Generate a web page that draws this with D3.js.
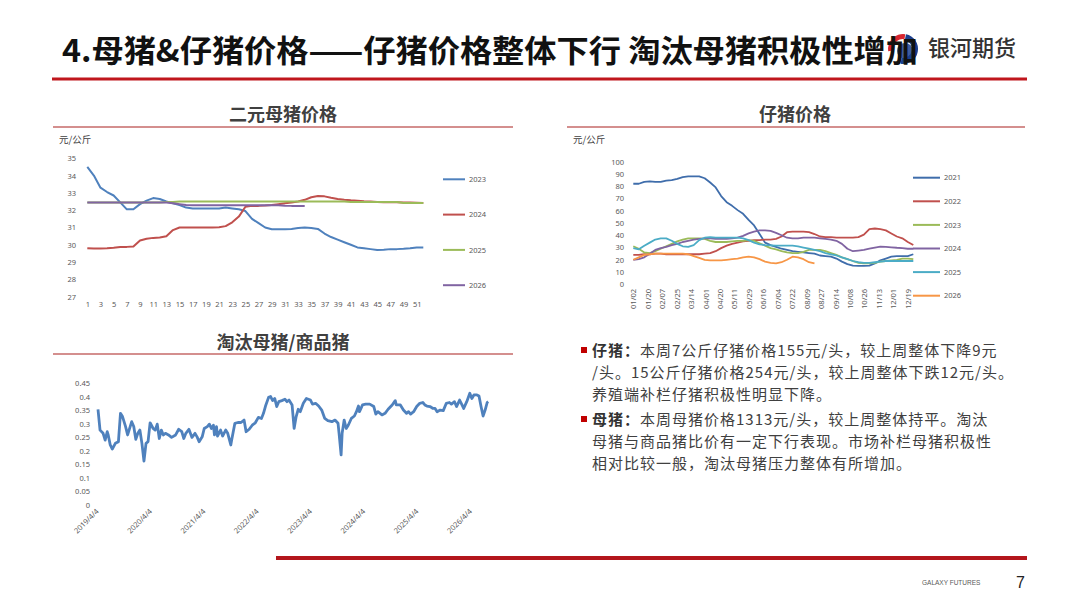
<!DOCTYPE html>
<html>
<head>
<meta charset="utf-8">
<script src="https://cdn.jsdelivr.net/npm/d3@7"></script>
<style>
body { margin: 0; background: #fff; }
svg { display: block; font-family: "Noto Sans CJK SC", "Noto Sans", sans-serif; }
.tick text { fill: #595959; font-family: "Noto Sans", "Noto Sans CJK SC", sans-serif; font-size: 7.5px; }
</style>
</head>
<body>
<svg id="slide" width="1080" height="608"></svg>
<script>
// ---- data ----
var sowYears = ["2023", "2024", "2025", "2026"];
var sowTicks = [27, 28, 29, 30, 31, 32, 33, 34, 35];
var sow2023 = [34.5,34.0,33.3,33.05,32.85,32.45,32.05,32.05,32.35,32.55, 32.7,32.65,32.5,32.4,32.3,32.15,32.1,32.1,32.1,32.1,
	32.1,32.15,32.1,32.05,31.95,31.5,31.25,31.0,30.9,30.9, 30.9,30.92,30.97,31.0,30.97,30.92,30.65,30.45,30.3,30.15,
	30.0,29.85,29.8,29.75,29.7,29.72,29.75,29.75,29.77,29.8, 29.85,29.85];
var sow2024 = [29.8,29.78,29.78,29.8,29.83,29.87,29.88,29.9,30.25,30.35, 30.4,30.42,30.5,30.85,31.0,31.0,31.0,31.0,31.0,31.0,
	31.02,31.08,31.3,31.63,32.2,32.25,32.25,32.27,32.3,32.35, 32.4,32.45,32.5,32.6,32.75,32.82,32.8,32.72,32.65,32.6,
	32.57,32.55,32.52,32.5,32.48,32.46,32.46,32.46,32.45,32.44, 32.43,32.42];
var sow2025 = [32.45,32.45,32.45,32.45,32.45,32.45,32.45,32.45,32.45,32.45, 32.45,32.45,32.47,32.47,32.5,32.5,32.5,32.5,32.5,32.5,
	32.5,32.5,32.5,32.5,32.5,32.5,32.5,32.5,32.5,32.5, 32.5,32.5,32.5,32.5,32.5,32.5,32.5,32.5,32.5,32.5,
	32.48,32.48,32.48,32.48,32.48,32.48,32.48,32.48,32.42,32.42, 32.42,32.42];
var sow2026 = [32.45,32.45,32.45,32.45,32.45,32.45,32.45,32.45,32.45,32.45, 32.45,32.45,32.45,32.4,32.35,32.3,32.28,32.28,32.28,32.28,
	32.28,32.28,32.28,32.28,32.28,32.28,32.28,32.28,32.28,32.28, 32.26,32.25,32.25,32.24];

var pigYears = ["2021", "2022", "2023", "2024", "2025", "2026"];
var pigTicks = [0, 10, 20, 30, 40, 50, 60, 70, 80, 90, 100];
var pigDates = ["01/02","01/20","02/07","02/25","03/14","04/01","04/20","05/11","05/29","06/16",
	"07/04","07/22","08/09","08/27","09/14","10/08","10/26","11/13","12/01","12/19"];
var pig2021 = [82,82,83.5,84,83.5,83.5,84.5,85,86,87.5, 88,88,88,86.5,83,79,72,67,64,60.5,
	57.5,52.5,48,41,34,32,30.5,29,28,27, 26.5,26,25.5,25,23.5,23,22.5,21,18.5,16.5,
	15.2,15,15,15.2,17,19.5,21,22.5,23,23, 23,24.5];
var pig2022 = [24,24,24.5,24.5,25,25,24.5,24.5,24.5,24.5, 24.5,24.5,24.5,25,25.5,27,29.5,31.5,33,34,
	35,35.5,36,36,36.5,36.5,37,39,42.5,43, 43,43,42.5,41,39,38.5,38.5,38,38,38,
	38,38.5,40.5,45,45.5,45,44,41.5,39,37.5, 34.5,32];
var pig2023 = [31,29,26,25.5,27,29,31,33,35,36.5, 37.5,37.5,37.5,37,35.5,34.5,34.5,34.5,35,35.5,
	35.5,36,35.5,33.5,31.5,29.5,28.5,27,26,25.5, 25.5,26.5,28,28,28,27,25.5,24,22,20.5,
	19,17.5,17,17,17.5,18.5,19,19.5,20,21, 21,20.5];
var pig2024 = [20,20.5,22,25,28,29.5,30.5,32,33,34.5, 35.5,36.5,37,37.5,37.5,37,37,37,37.5,38,
	39.5,41.5,43,44,44,43.5,42,40,38,37.5, 37.5,38,38,38,37.5,37,36.5,35.5,33,29,
	27,27.5,28,29,30,30.8,30.5,30.2,29.8,29.5, 29,29];
var pig2025 = [29.5,28.5,31.5,34,36.5,37.5,37.5,35.5,33,31, 30.5,32,36,38,38.5,38,38,38,38,38,
	37.5,36,34,32.5,32,31.8,31.5,31.5,31.5,31.5, 31,30,29,28,27,25.5,24.5,23.5,22,20.5,
	19,18,17.5,17.5,18,18.5,19,19,19,19, 19,19];
var pig2026 = [20,22,24,24.5,25,25,25,25,25,25, 24.5,23,21.5,20,19.5,19.5,19.5,20,20.5,21,
	22,22.5,22,20.5,18.5,17.5,17,18,20,22.5, 22,20.5,18,17];

var ratioTicks = [0, 0.05, 0.1, 0.15, 0.2, 0.25, 0.3, 0.35, 0.4, 0.45];
var ratioDates = ["2019/4/4","2020/4/4","2021/4/4","2022/4/4","2023/4/4","2024/4/4","2025/4/4","2026/4/4"];
// weeks counted from 2019/4/4
var ratioWeeks = [0,2,5,7,9,10,12,14,17,20,22,24,27,29,33,35,37,39,41,43,45,47,49,51,54,56,58,60,62,64,66,69,72,76,79,82,84,86,89,92,
	95,97,99,102,104,107,109,111,113,114,116,117,120,122,125,127,130,131,134,137,140,143,145,148,151,154,157,160,162,164,
	167,169,171,173,175,177,180,183,185,187,190,192,194,196,198,201,204,208,210,213,216,219,222,225,229,232,235,236,238,239,
	241,243,245,248,251,253,255,256,259,262,266,270,272,274,278,281,284,288,291,292,296,299,302,304,306,309,312,315,318,320,
	322,325,328,330,332,335,338,341,344,346,349,351,354,356,358,361,364,366,368,371,373,375,377,379,381,382];
var ratioValues = [0.354,0.277,0.265,0.240,0.271,0.259,0.222,0.207,0.228,0.234,0.339,0.327,0.290,0.259,0.308,0.290,0.243,0.265,0.277,0.228,
	0.162,0.228,0.234,0.304,0.283,0.277,0.299,0.246,0.277,0.259,0.265,0.259,0.250,0.259,0.280,0.271,0.246,0.265,0.280,0.250,
	0.265,0.252,0.234,0.252,0.283,0.290,0.299,0.283,0.295,0.259,0.290,0.255,0.277,0.255,0.277,0.265,0.222,0.243,0.302,0.305,
	0.305,0.314,0.271,0.280,0.295,0.304,0.324,0.320,0.339,0.366,0.398,0.401,0.386,0.394,0.364,0.382,0.386,0.391,0.382,0.388,
	0.370,0.283,0.327,0.354,0.345,0.376,0.394,0.388,0.373,0.376,0.366,0.351,0.320,0.312,0.308,0.314,0.302,0.265,0.185,0.265,
	0.314,0.283,0.295,0.320,0.329,0.345,0.366,0.345,0.370,0.373,0.373,0.364,0.336,0.345,0.333,0.339,0.354,0.370,0.386,0.370,
	0.370,0.351,0.339,0.345,0.336,0.345,0.364,0.376,0.379,0.370,0.366,0.364,0.357,0.357,0.345,0.351,0.349,0.376,0.379,0.373,
	0.382,0.364,0.388,0.373,0.357,0.382,0.413,0.394,0.407,0.407,0.403,0.364,0.329,0.351,0.379,0.382];

var notes = [
	{ label: "仔猪：", lines: ["本周7公斤仔猪价格155元/头，较上周整体下降9元", "/头。15公斤仔猪价格254元/头，较上周整体下跌12元/头。", "养殖端补栏仔猪积极性明显下降。"] },
	{ label: "母猪：", lines: ["本周母猪价格1313元/头，较上周整体持平。淘汰", "母猪与商品猪比价有一定下行表现。市场补栏母猪积极性", "相对比较一般，淘汰母猪压力整体有所增加。"] }
];

var COLORS = ["#3f6dab", "#c0504d", "#9bbb59", "#8064a2", "#4bacc6", "#f79646"];
var SOW_COLORS = ["#4f81bd", "#c0504d", "#9bbb59", "#8064a2"];

var svg = d3.select("#slide");

// ---- header ----
var logo = svg.append("g").attr("transform", "translate(903,49)");
logo.append("path")
	.attr("d", d3.arc()({ innerRadius: 9, outerRadius: 15, startAngle: 0.2, endAngle: Math.PI * 1.05 }))
	.attr("fill", "#1c3f8c");
logo.append("path")
	.attr("d", d3.arc()({ innerRadius: 10, outerRadius: 15, startAngle: -Math.PI * 0.55, endAngle: 0.15 }))
	.attr("fill", "#d7262e");
logo.append("circle").attr("r", 8).attr("cx", 2).attr("cy", 2).attr("fill", "#1c3f8c").attr("opacity", 0.85);

svg.append("text")
	.attr("x", 62).attr("y", 62)
	.attr("textLength", 856).attr("lengthAdjust", "spacingAndGlyphs")
	.attr("font-size", 31).attr("font-weight", 700).attr("fill", "#111")
	.text("4.母猪&仔猪价格——仔猪价格整体下行 淘汰母猪积极性增加");

svg.append("text")
	.attr("x", 928).attr("y", 56)
	.attr("font-size", 22).attr("font-weight", 500).attr("fill", "#333")
	.text("银河期货");

svg.append("line").attr("x1", 52).attr("x2", 1027).attr("y1", 79).attr("y2", 79)
	.attr("stroke", "#c0161d").attr("stroke-width", 3);

// ---- footer ----
svg.append("line").attr("x1", 276).attr("x2", 1027).attr("y1", 558).attr("y2", 558)
	.attr("stroke", "#b3161c").attr("stroke-width", 4);
svg.append("text").attr("x", 922).attr("y", 585).attr("font-size", 6.5)
	.attr("font-family", "Liberation Sans Narrow, Liberation Sans, sans-serif").attr("fill", "#595959")
	.text("GALAXY FUTURES");
svg.append("text").attr("x", 1016).attr("y", 588).attr("font-size", 16)
	.attr("font-family", "Liberation Sans Narrow, Liberation Sans, sans-serif").attr("fill", "#222")
	.text("7");

function panelTitle(cx, y, txt, x1, x2, lineY) {
	svg.append("text").attr("x", cx).attr("y", y).attr("text-anchor", "middle")
		.attr("font-size", 18).attr("font-weight", 700).attr("fill", "#404040").text(txt);
	svg.append("line").attr("x1", x1).attr("x2", x2).attr("y1", lineY).attr("y2", lineY)
		.attr("stroke", "#c66a68").attr("stroke-width", 1.5);
}

function cleanAxis(g) {
	g.select(".domain").remove();
	g.selectAll(".tick line").remove();
}

function drawLine(g, values, xPos, y, color, width) {
	g.append("path")
		.datum(values)
		.attr("fill", "none")
		.attr("stroke", color)
		.attr("stroke-width", width)
		.attr("stroke-linejoin", "round")
		.attr("d", d3.line().x(function(d, i) { return xPos(i); }).y(function(d) { return y(d); }));
}

// ---- 二元母猪价格 ----
panelTitle(283, 121, "二元母猪价格", 53, 513, 127);
svg.append("text").attr("x", 59).attr("y", 143).attr("font-size", 9.5).attr("fill", "#404040").text("元/公斤");

var sowX = d3.scaleLinear().domain([1, 52]).range([87.3, 423.3]);
var sowY = d3.scaleLinear().domain([27, 35]).range([296.7, 158.3]);

svg.append("g").attr("transform", "translate(76,0)")
	.call(d3.axisLeft(sowY).tickValues(sowTicks).tickSize(0).tickPadding(0).tickFormat(d3.format("d")))
	.call(cleanAxis);
svg.append("g").attr("transform", "translate(0,300)")
	.call(d3.axisBottom(sowX).tickValues(d3.range(1, 52, 2)).tickSize(0).tickPadding(2).tickFormat(d3.format("d")))
	.call(cleanAxis);

var sowG = svg.append("g");
[sow2023, sow2024, sow2025, sow2026].forEach(function(vals, k) {
	drawLine(sowG, vals, function(i) { return sowX(i + 1); }, sowY, SOW_COLORS[k], 2);
});

var sowLeg = svg.append("g").selectAll("g").data(sowYears).enter().append("g")
	.attr("transform", function(d, k) { return "translate(443," + (179.3 + k * 35.3) + ")"; });
sowLeg.append("line").attr("x2", 22).attr("stroke", function(d, k) { return SOW_COLORS[k]; }).attr("stroke-width", 2);
sowLeg.append("text").attr("x", 26).attr("dy", "0.35em").attr("font-size", 7.5)
	.attr("font-family", "Noto Sans, sans-serif").attr("fill", "#595959").text(function(d) { return d; });

// ---- 仔猪价格 ----
panelTitle(795, 121, "仔猪价格", 567, 1025, 127);
svg.append("text").attr("x", 573).attr("y", 143).attr("font-size", 9.5).attr("fill", "#404040").text("元/公斤");

var pigX = d3.scaleLinear().domain([0, 51]).range([633.3, 913.3]);
var pigY = d3.scaleLinear().domain([0, 100]).range([284.3, 161.7]);

svg.append("g").attr("transform", "translate(624,0)")
	.call(d3.axisLeft(pigY).tickValues(pigTicks).tickSize(0).tickPadding(0))
	.call(cleanAxis);

var pigAxis = svg.append("g").attr("transform", "translate(0,287)")
	.call(d3.axisBottom(pigX).tickValues(pigDates.map(function(d, k) { return k * 2.63; }))
		.tickSize(0).tickFormat(function(d, k) { return pigDates[k]; }))
	.call(cleanAxis);
pigAxis.selectAll("text")
	.attr("transform", "rotate(-90)")
	.attr("x", -2).attr("y", 0).attr("dy", "0.35em")
	.style("text-anchor", "end");

var pigG = svg.append("g");
[pig2021, pig2022, pig2023, pig2024, pig2025, pig2026].forEach(function(vals, k) {
	drawLine(pigG, vals, pigX, pigY, COLORS[k], 1.8);
});

var pigLeg = svg.append("g").selectAll("g").data(pigYears).enter().append("g")
	.attr("transform", function(d, k) { return "translate(913," + (177.7 + k * 23.6) + ")"; });
pigLeg.append("line").attr("x2", 27)
	.attr("stroke", function(d, k) { return COLORS[k]; }).attr("stroke-width", 2);
pigLeg.append("text").attr("x", 31).attr("dy", "0.35em").attr("font-size", 7.5)
	.attr("font-family", "Noto Sans, sans-serif").attr("fill", "#595959").text(function(d) { return d; });

// ---- 淘汰母猪/商品猪 ----
panelTitle(283, 349, "淘汰母猪/商品猪", 53, 513, 354);

var ratioX = d3.scaleLinear().domain([0, 382]).range([98, 488.2]);
var ratioY = d3.scaleLinear().domain([0, 0.45]).range([505, 383.3]);

svg.append("g").attr("transform", "translate(90,0)")
	.call(d3.axisLeft(ratioY).tickValues(ratioTicks).tickSize(0).tickPadding(0).tickFormat(function(d) { return String(+d.toFixed(2)); }))
	.call(cleanAxis);

var ratioAxis = svg.append("g").attr("transform", "translate(0,508)")
	.call(d3.axisBottom(ratioX).tickValues(ratioDates.map(function(d, k) { return k * 52.18; }))
		.tickSize(0).tickFormat(function(d, k) { return ratioDates[k]; }))
	.call(cleanAxis);
ratioAxis.selectAll("text")
	.attr("transform", "translate(-1,2) rotate(-45)")
	.attr("x", 0).attr("y", 0).attr("dy", "0.35em")
	.style("text-anchor", "end");

svg.append("path")
	.datum(ratioValues)
	.attr("fill", "none")
	.attr("stroke", "#4f81bd")
	.attr("stroke-width", 2.8)
	.attr("stroke-linejoin", "round")
	.attr("d", d3.line()
		.x(function(d, i) { return ratioX(ratioWeeks[i]); })
		.y(function(d) { return ratioY(d); }));

// ---- commentary ----
var lineY = [[356, 378, 400], [425, 447, 469]];
notes.forEach(function(n, p) {
	svg.append("rect").attr("x", 581).attr("y", lineY[p][0] - 9).attr("width", 6).attr("height", 6).attr("fill", "#c00000");
	n.lines.forEach(function(line, j) {
		var t = svg.append("text").attr("x", 592).attr("y", lineY[p][j])
			.attr("font-size", 15).attr("letter-spacing", 1).attr("fill", "#404040");
		if (j === 0) t.append("tspan").attr("font-weight", 700).attr("fill", "#333").text(n.label);
		t.append("tspan").text(line);
	});
});
</script>
</body>
</html>
